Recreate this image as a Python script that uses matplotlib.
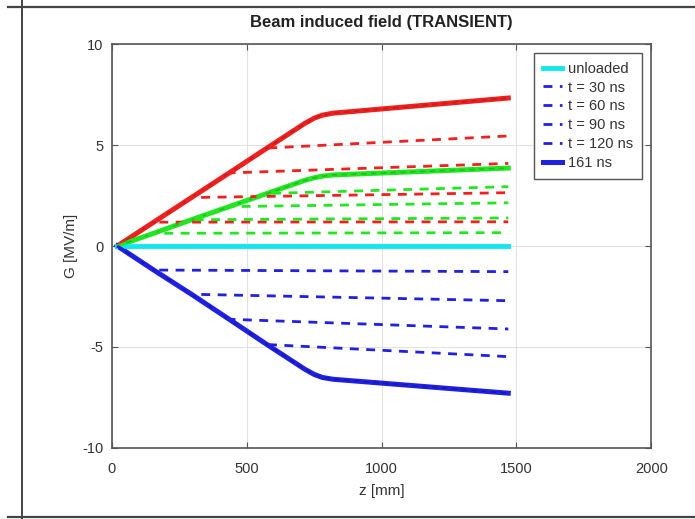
import matplotlib
matplotlib.use('Agg')
import matplotlib.pyplot as plt
from matplotlib.lines import Line2D

plt.rcParams['font.family'] = ['Liberation Sans', 'DejaVu Sans']
plt.rcParams['axes.unicode_minus'] = False

# z positions along the structure [mm]
z_unloaded = [20, 1470]
g_unloaded = [0, 0]

# full beam loading (161 ns) curves
z_full = [20, 155, 295, 435, 575, 715, 750, 780, 820, 1470]
g_red = [0, 1.18, 2.4, 3.62, 4.85, 6.07, 6.33, 6.48, 6.58, 7.33]
g_green = [0, 0.63, 1.3, 1.95, 2.6, 3.25, 3.38, 3.46, 3.52, 3.86]
g_blue = [0, -1.19, -2.39, -3.63, -4.88, -6.1, -6.36, -6.51, -6.6, -7.29]

# transient curves, t = 30, 60, 90, 120 ns: ramp up to a knee, then almost flat
t_labels = ['t = 30 ns', 't = 60 ns', 't = 90 ns', 't = 120 ns']
knee_z = [155, 295, 435, 575]
red_end = [1.2, 2.64, 4.09, 5.45]
green_end = [0.66, 1.39, 2.14, 2.94]
blue_end = [-1.27, -2.71, -4.11, -5.48]
z_end = 1470

red = '#ee2020'
green = '#22e622'
blue = '#2020e0'
cyan = '#10e8ee'
dash = (0, (3.2, 2.7))

fig = plt.figure(figsize=(6.95, 5.19), dpi=100)
ax = fig.add_axes([0.161, 0.137, 0.776, 0.778])

ax.plot(z_unloaded, g_unloaded, color=cyan, lw=3.5, label='unloaded', zorder=3)

for i in range(len(t_labels)):
    n = z_full.index(knee_z[i]) + 1
    zz = z_full[:n] + [z_end]
    for g_full, ev, col in [(g_red, red_end[i], red),
                            (g_green, green_end[i], green),
                            (g_blue, blue_end[i], blue)]:
        gg = g_full[:n] + [ev]
        lbl = t_labels[i] if col == blue else None
        ax.plot(zz, gg, color=col, lw=2, linestyle=dash, label=lbl, zorder=4)

ax.plot(z_full, g_red, color=red, lw=3.6, zorder=2)
ax.plot(z_full, g_green, color=green, lw=3.6, zorder=2)
ax.plot(z_full, g_blue, color=blue, lw=3.6, label='161 ns', zorder=2)
# darker dashes over the solid traces, as in the original
ax.plot(z_full, g_red, color='#b01818', lw=1.2, linestyle=dash, alpha=0.6, zorder=2)
ax.plot(z_full, g_green, color='#18a818', lw=1.2, linestyle=dash, alpha=0.6, zorder=2)
ax.plot(z_full, g_blue, color='#1010a0', lw=1.2, linestyle=dash, alpha=0.6, zorder=2)

ax.set_xlim(0, 2000)
ax.set_ylim(-10, 10)
ax.set_xticks([0, 500, 1000, 1500, 2000])
ax.set_yticks([-10, -5, 0, 5, 10])
ax.grid(True, color='#e2e2e2', lw=0.8)
ax.set_axisbelow(True)
ax.tick_params(direction='in', length=4, color='#555555', labelcolor='#333333',
               labelsize=10.5, top=True, right=True)
ax.tick_params(axis='x', pad=10)
ax.tick_params(axis='y', pad=6)
for s in ax.spines.values():
    s.set_color('#555555')
    s.set_linewidth(1.2)

ax.set_title('Beam induced field (TRANSIENT)', fontsize=12, fontweight='bold',
             color='#222222', pad=12)
ax.set_xlabel('z [mm]', fontsize=11, color='#333333', labelpad=6)
ax.set_ylabel('G [MV/m]', fontsize=11, color='#333333', labelpad=3)

leg = ax.legend(loc='upper right', bbox_to_anchor=(0.983, 0.978), borderaxespad=0,
                fontsize=10.5, handlelength=1.3, handletextpad=0.45, labelspacing=0.33,
                fancybox=False, framealpha=1, edgecolor='#555555', borderpad=0.6)
leg.get_frame().set_linewidth(1.0)
for t in leg.get_texts():
    t.set_color('#333333')

# page frame from the scanned document
fig.add_artist(Line2D([8 / 695, 1], [1 - 7 / 519, 1 - 7 / 519], color='#444444', lw=1.6))
fig.add_artist(Line2D([8 / 695, 1], [2 / 519, 2 / 519], color='#444444', lw=1.6))
fig.add_artist(Line2D([22 / 695, 22 / 695], [0, 1], color='#444444', lw=1.4))

fig.savefig('out.png', dpi=100)
